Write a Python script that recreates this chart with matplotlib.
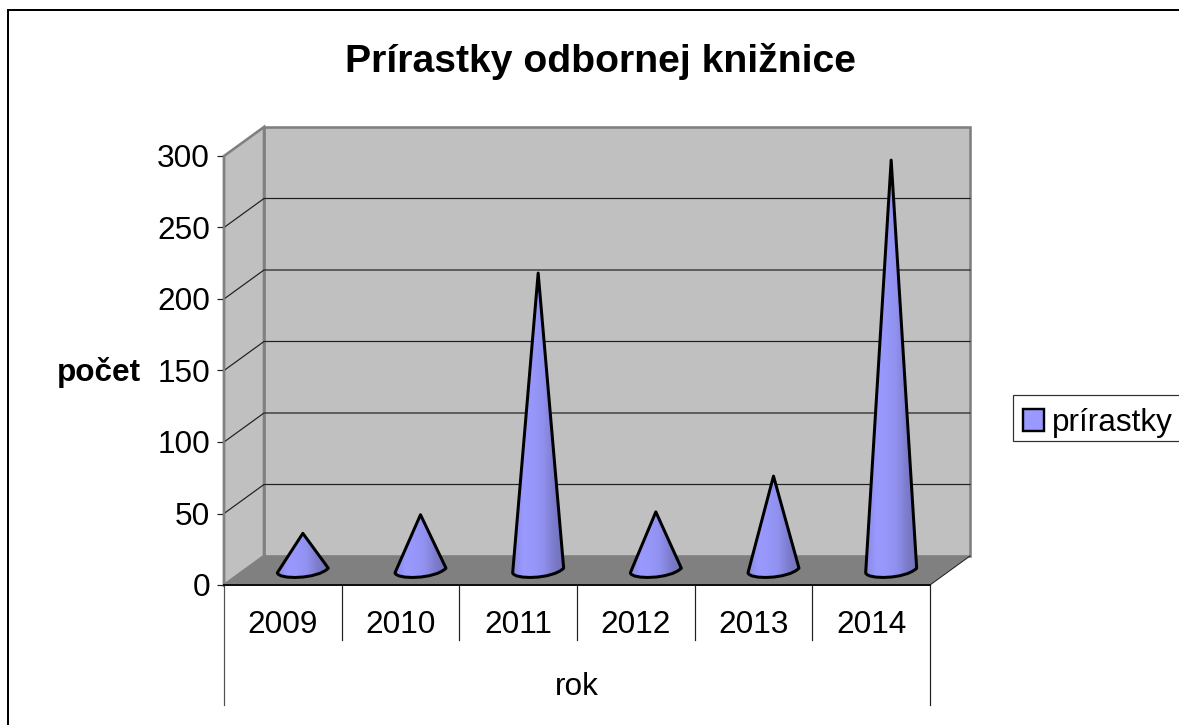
import matplotlib
matplotlib.use("Agg")
import matplotlib.pyplot as plt
import numpy as np
from matplotlib.colors import LinearSegmentedColormap
from matplotlib.lines import Line2D
from matplotlib.patches import Patch, PathPatch, Polygon, Rectangle
from matplotlib.path import Path

plt.rcParams['font.family'] = ['Liberation Sans', 'DejaVu Sans']

title = "Prírastky odbornej knižnice"
years = ["2009", "2010", "2011", "2012", "2013", "2014"]
pocet = [26, 39, 208, 41, 66, 287]
series_name = "prírastky"
y_ticks = [0, 50, 100, 150, 200, 250, 300]
y_title = "počet"
x_title = "rok"

W, H = 1179, 725
PX = 1 / 100 * 72  # points per pixel
fig = plt.figure(figsize=(W / 100, H / 100), dpi=100, facecolor="white")
L, R, T, B = 224, 930, 156, 585
ax = fig.add_axes([L / W, 1 - B / H, (R - L) / W, (B - T) / H])
ax.patch.set_visible(False)
n = len(years)
ymax = y_ticks[-1]
ux = (R - L) / n      # px per category
uy = (B - T) / ymax   # px per value
dx = 40 / ux
dy = 29 / uy

# chart border (only left and top reach inside the picture)
for xs, ys in (([8, 8], [10, H]), ([8, W], [10, 10])):
    fig.add_artist(Line2D([x / W for x in xs], [1 - y / H for y in ys],
                          color="#000000", lw=2.0 * PX, solid_capstyle="projecting"))

GRAY = "#808080"
WALL = "#C0C0C0"
# walls and floor
ax.add_patch(Polygon([(dx, dy), (n + dx, dy), (n + dx, ymax + dy), (dx, ymax + dy)],
                     fc=WALL, ec=GRAY, lw=2.6 * PX, clip_on=False, zorder=1, joinstyle="miter"))
ax.add_patch(Polygon([(0, 0), (dx, dy), (dx, ymax + dy), (0, ymax)],
                     fc=WALL, ec=GRAY, lw=2.6 * PX, clip_on=False, zorder=1, joinstyle="miter"))
ax.add_patch(Polygon([(0, 0), (dx, dy), (n + dx, dy), (n, 0)],
                     fc=GRAY, ec="none", clip_on=False, zorder=1.5))
# gridlines
for v in y_ticks[1:-1]:
    ax.plot([0, dx, n + dx], [v, v + dy, v + dy], color="#202020", lw=1.2 * PX,
            clip_on=False, zorder=2, solid_joinstyle="miter")
ax.plot([n, n + dx], [0, dy], color="#202020", lw=1.0 * PX, clip_on=False, zorder=2)

# cones
cmap = LinearSegmentedColormap.from_list(
    "cone", ["#8888E0", "#9999FF", "#9797FA", "#9090EE", "#7C7CCC", "#7070B8"])
grad = np.linspace(0, 1, 256).reshape(1, -1)
half = 25.5 / ux
for i, v in enumerate(pocet):
    cx = i + 0.5 + dx / 2
    cy = dy / 2
    tilt = 2.3 / uy
    sag = 9.0 / uy
    verts = [(cx - half, cy - tilt), (cx, cy + v), (cx + half, cy + tilt),
             (cx + half * 0.55, cy - sag), (cx - half * 0.95, cy - sag * 1.02), (cx - half, cy - tilt),
             (cx - half, cy - tilt)]
    codes = [Path.MOVETO, Path.LINETO, Path.LINETO,
             Path.CURVE4, Path.CURVE4, Path.CURVE4, Path.CLOSEPOLY]
    path = Path(verts, codes)
    im = ax.imshow(grad, extent=(cx - half, cx + half, cy - sag, cy + v), aspect="auto",
                   cmap=cmap, zorder=3, clip_on=True, interpolation="bilinear")
    patch = PathPatch(path, fc="none", ec="black", lw=3.0 * PX, clip_on=False,
                      zorder=4, joinstyle="round")
    ax.add_patch(patch)
    im.set_clip_path(patch)

ax.set_xlim(0, n)
ax.set_ylim(0, ymax)

# axes
for s in ("top", "right"):
    ax.spines[s].set_visible(False)
ax.spines["left"].set_color(GRAY)
ax.spines["left"].set_linewidth(2.2 * PX)
ax.spines["left"].set_zorder(2.5)
ax.spines["bottom"].set_color("#101010")
ax.spines["bottom"].set_linewidth(2.0 * PX)
ax.spines["bottom"].set_zorder(2.5)
ax.set_yticks(y_ticks)
ax.set_xticks(np.arange(n) + 0.5, years)
FS = 22.7
ax.tick_params(axis="y", length=7 * PX, width=1.2 * PX, color="#202020", pad=7 * PX, labelsize=FS)
ax.tick_params(axis="x", length=0, pad=25 * PX, labelsize=FS)

# category separators
for k in range(n + 1):
    bottom = 705 if k in (0, n) else 640
    ax.plot([k, k], [0, -(bottom - B) / uy], color="#202020" if k else "#505050",
            lw=1.2 * PX, clip_on=False, zorder=2)
ax.text(n / 2, -(687 - B) / uy, x_title, ha="center", va="center", fontsize=FS)
ax.text(-(L - 141) / ux, (B - 373) / uy, y_title, ha="right", va="center",
        fontsize=FS, fontweight="bold")
fig.text(601 / W, 1 - 62 / H, title, ha="center", va="center", fontsize=28.2, fontweight="bold")

# legend: frame runs past the picture's right edge
fig.add_artist(Rectangle((1013 / W, 1 - 441 / H), 200 / W, 46 / H, transform=fig.transFigure,
                         fc="white", ec="#303030", lw=1.2 * PX))
leg = fig.legend(handles=[Patch(fc="#9999FF", ec="black", lw=2.4 * PX, label=series_name)],
                 loc="upper left", bbox_to_anchor=(1013 / W, 1 - 398 / H),
                 fontsize=FS, frameon=False, borderpad=0.32, borderaxespad=0,
                 handlelength=0.667, handleheight=0.667, handletextpad=0.25)

fig.savefig("out.png", dpi=100, facecolor="white")
